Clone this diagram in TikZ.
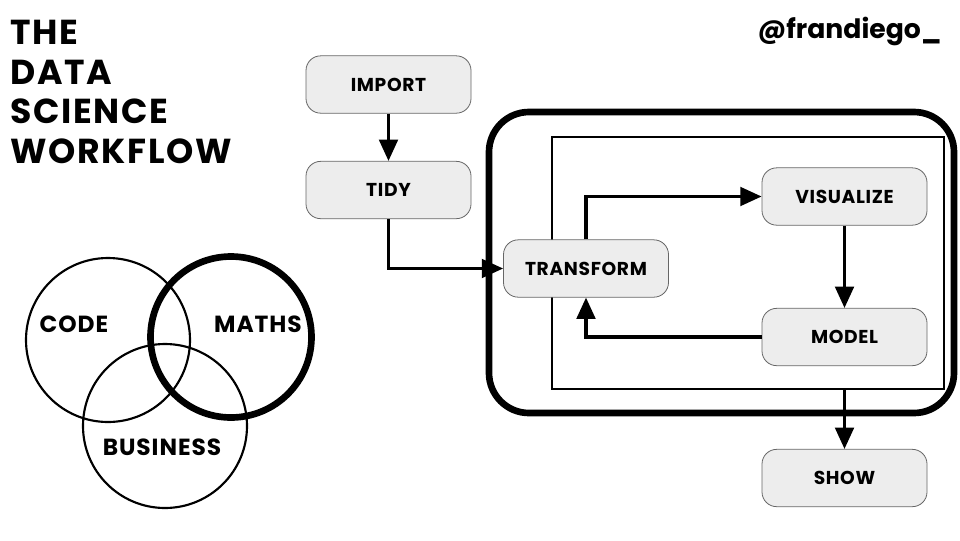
\documentclass[tikz,border=0pt]{standalone}
\usepackage{fontspec}
\setmainfont{Poppins}[BoldFont={* Bold}]
\usetikzlibrary{arrows.meta}
\begin{document}
\begin{tikzpicture}[x=0.75pt,y=-0.75pt,
  stepbox/.style={draw=black!60,line width=0.6pt,fill=black!7,rounded corners=11pt,minimum width=123.75pt,minimum height=43pt,font=\bfseries\fontsize{14}{16}\selectfont\addfontfeatures{LetterSpace=3.5},inner sep=0pt},
  flow/.style={line width=2.3pt,-{Triangle[length=16pt,width=14pt]}},
  title/.style={font=\bfseries\fontsize{26}{30}\selectfont\addfontfeatures{LetterSpace=5},anchor=west,inner sep=0pt},
  venn/.style={font=\bfseries\fontsize{17.5}{20}\selectfont\addfontfeatures{LetterSpace=4},inner sep=0pt}]
\useasboundingbox (0,0) rectangle (960,540);
% title
\node[title] (t1) at (10,32) {THE};
\node[title] (t2) at (10,72) {DATA};
\node[title] (t3) at (10,111) {SCIENCE};
\node[title] (t4) at (10,151) {WORKFLOW};
\node[font=\bfseries\fontsize{20}{24}\selectfont,anchor=east,inner sep=0pt] (handle) at (942,31) {@frandiego\_};
% venn
\draw[line width=1.6pt] (108,340) circle (82);
\draw[line width=1.6pt] (165,426) circle (82);
\draw[line width=5pt] (231,337) circle (80.5);
\node[venn] (code) at (74,324) {CODE};
\node[venn] (maths) at (258,324) {MATHS};
\node[venn] (business) at (162,447) {BUSINESS};
% containers
\draw[line width=5pt,rounded corners=30pt] (489,112) rectangle (954,413);
\node[draw,line width=2.2pt,minimum width=294pt,minimum height=189pt,inner sep=0pt] (inner) at (748,263) {};
% boxes
\node[stepbox] (import) at (388.5,84.5) {IMPORT};
\node[stepbox] (tidy) at (388.5,190) {TIDY};
\node[stepbox] (transform) at (586,268.5) {TRANSFORM};
\node[stepbox] (visualize) at (844.5,196.5) {VISUALIZE};
\node[stepbox] (model) at (844.5,337) {MODEL};
\node[stepbox] (show) at (844.5,478) {SHOW};
% arrows
\draw[flow] (import) -- (tidy);
\draw[flow] (tidy.south) |- (transform.west);
\draw[flow] (transform.north) |- (visualize.west);
\draw[flow] (visualize) -- (model);
\draw[flow] (model.west) -| (transform.south);
\draw[flow] (show.north |- inner.south) -- (show.north);
\end{tikzpicture}
\end{document}
